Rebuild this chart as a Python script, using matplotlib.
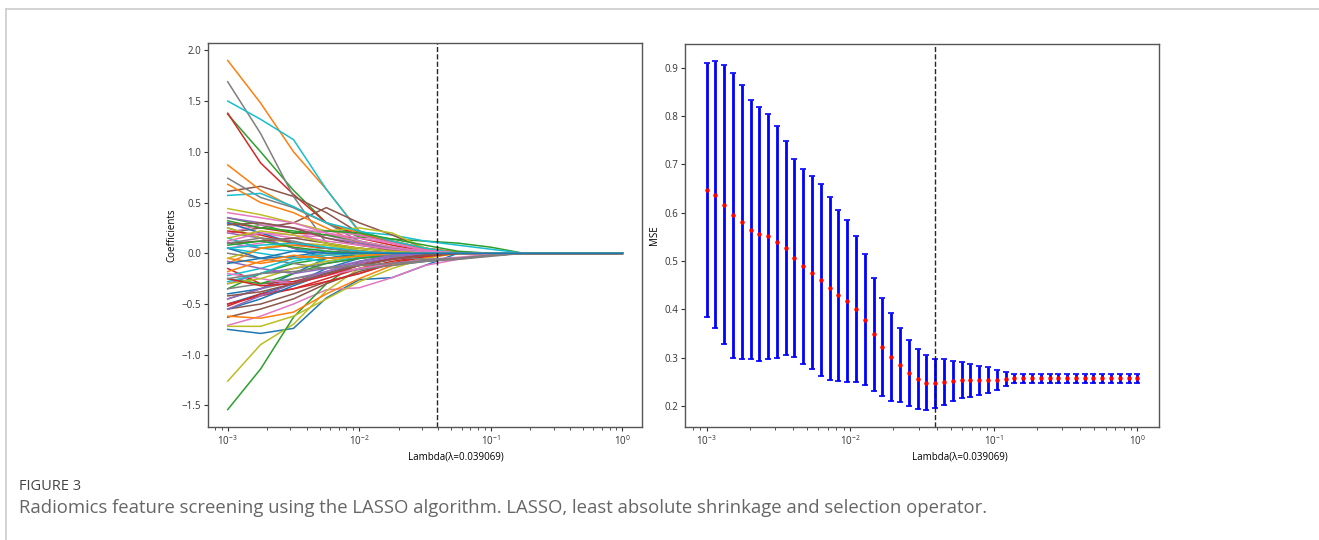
import numpy as np
import matplotlib
matplotlib.use("Agg")
import matplotlib.pyplot as plt
from matplotlib.lines import Line2D

# lambda grid (log10) used to read the coefficient paths
coef_log_lambda = [-3.0, -2.75, -2.5, -2.25, -2.0, -1.75, -1.5, -1.25, -1.0, -0.75, 0.0]

# one row per feature, drawn in the default colour cycle order
coef_paths = [
    [-0.75, -0.79, -0.74, -0.44, -0.26, -0.24, -0.12, 0.0, 0.0, 0.0, 0.0],
    [1.90, 1.48, 1.00, 0.63, 0.22, 0.12, 0.04, 0.0, 0.0, 0.0, 0.0],
    [1.37, 1.00, 0.62, 0.30, 0.16, 0.14, 0.12, 0.10, 0.06, 0.0, 0.0],
    [1.38, 0.89, 0.58, 0.30, 0.18, 0.12, 0.05, 0.01, 0.0, 0.0, 0.0],
    [0.10, 0.05, 0.08, 0.05, 0.02, 0.0, 0.0, 0.0, 0.0, 0.0, 0.0],
    [0.61, 0.66, 0.56, 0.40, 0.20, 0.10, 0.03, 0.0, 0.0, 0.0, 0.0],
    [-0.71, -0.62, -0.50, -0.36, -0.34, -0.24, -0.12, -0.06, -0.02, 0.0, 0.0],
    [1.69, 1.18, 0.56, 0.10, 0.02, 0.0, 0.0, 0.0, 0.0, 0.0, 0.0],
    [-1.26, -0.90, -0.70, -0.37, -0.15, -0.04, 0.0, 0.0, 0.0, 0.0, 0.0],
    [1.50, 1.32, 1.12, 0.63, 0.21, 0.18, 0.12, 0.08, 0.04, 0.0, 0.0],
    [-0.50, -0.40, -0.30, -0.15, -0.05, 0.0, 0.0, 0.0, 0.0, 0.0, 0.0],
    [0.87, 0.62, 0.45, 0.30, 0.20, 0.12, 0.05, 0.01, 0.0, 0.0, 0.0],
    [-1.54, -1.14, -0.63, -0.30, -0.08, -0.02, 0.0, 0.0, 0.0, 0.0, 0.0],
    [0.30, 0.25, 0.20, 0.18, 0.15, 0.08, 0.02, 0.0, 0.0, 0.0, 0.0],
    [-0.30, -0.20, -0.15, -0.10, -0.05, -0.02, 0.0, 0.0, 0.0, 0.0, 0.0],
    [0.20, 0.25, 0.30, 0.45, 0.30, 0.18, 0.05, 0.0, 0.0, 0.0, 0.0],
    [0.05, 0.10, 0.15, 0.18, 0.10, 0.05, 0.0, 0.0, 0.0, 0.0, 0.0],
    [0.74, 0.55, 0.45, 0.30, 0.12, 0.05, 0.02, 0.0, 0.0, 0.0, 0.0],
    [0.44, 0.38, 0.30, 0.22, 0.25, 0.20, 0.05, 0.0, 0.0, 0.0, 0.0],
    [0.57, 0.59, 0.46, 0.30, 0.22, 0.12, 0.05, 0.0, 0.0, 0.0, 0.0],
    [0.25, 0.15, 0.05, -0.05, -0.02, 0.0, 0.0, 0.0, 0.0, 0.0, 0.0],
    [0.68, 0.50, 0.40, 0.25, 0.10, 0.03, 0.0, 0.0, 0.0, 0.0, 0.0],
    [-0.35, -0.20, -0.10, -0.05, -0.02, 0.0, 0.0, 0.0, 0.0, 0.0, 0.0],
    [-0.52, -0.40, -0.35, -0.25, -0.15, -0.08, -0.03, 0.0, 0.0, 0.0, 0.0],
    [0.20, 0.15, 0.05, 0.0, 0.0, 0.0, 0.0, 0.0, 0.0, 0.0, 0.0],
    [-0.63, -0.55, -0.45, -0.30, -0.18, -0.10, -0.04, 0.0, 0.0, 0.0, 0.0],
    [0.30, 0.20, 0.15, 0.22, 0.18, 0.10, 0.03, 0.0, 0.0, 0.0, 0.0],
    [-0.45, -0.35, -0.28, -0.20, -0.15, -0.12, -0.08, -0.05, -0.02, 0.0, 0.0],
    [-0.72, -0.72, -0.62, -0.45, -0.28, -0.15, -0.05, 0.0, 0.0, 0.0, 0.0],
    [0.15, 0.05, 0.02, 0.05, 0.05, 0.02, 0.0, 0.0, 0.0, 0.0, 0.0],
    [-0.40, -0.35, -0.20, -0.05, 0.0, 0.0, 0.0, 0.0, 0.0, 0.0, 0.0],
    [-0.62, -0.64, -0.58, -0.40, -0.25, -0.12, -0.04, 0.0, 0.0, 0.0, 0.0],
    [0.35, 0.28, 0.20, 0.22, 0.20, 0.14, 0.08, 0.02, 0.0, 0.0, 0.0],
    [-0.15, -0.30, -0.28, -0.20, -0.10, -0.05, -0.01, 0.0, 0.0, 0.0, 0.0],
    [-0.45, -0.35, -0.25, -0.18, -0.10, -0.04, 0.0, 0.0, 0.0, 0.0, 0.0],
    [-0.55, -0.50, -0.40, -0.28, -0.20, -0.10, -0.03, 0.0, 0.0, 0.0, 0.0],
    [0.20, 0.28, 0.25, 0.20, 0.15, 0.10, 0.03, 0.0, 0.0, 0.0, 0.0],
    [0.0, -0.05, -0.10, -0.15, -0.12, -0.10, -0.08, -0.06, -0.03, 0.0, 0.0],
    [0.25, 0.15, 0.10, 0.08, 0.05, 0.02, 0.0, 0.0, 0.0, 0.0, 0.0],
    [-0.22, -0.15, -0.05, 0.0, 0.0, 0.0, 0.0, 0.0, 0.0, 0.0, 0.0],
    [0.30, 0.20, 0.10, 0.05, 0.02, 0.0, 0.0, 0.0, 0.0, 0.0, 0.0],
    [-0.05, -0.10, -0.05, -0.02, 0.0, 0.0, 0.0, 0.0, 0.0, 0.0, 0.0],
    [0.32, 0.25, 0.22, 0.18, 0.12, 0.06, 0.01, 0.0, 0.0, 0.0, 0.0],
    [-0.50, -0.42, -0.35, -0.28, -0.20, -0.10, -0.03, 0.0, 0.0, 0.0, 0.0],
    [0.35, 0.30, 0.25, 0.15, 0.10, 0.04, 0.0, 0.0, 0.0, 0.0, 0.0],
    [0.10, 0.12, 0.15, 0.10, 0.05, 0.02, 0.0, 0.0, 0.0, 0.0, 0.0],
    [0.40, 0.35, 0.30, 0.20, 0.12, 0.06, 0.02, 0.0, 0.0, 0.0, 0.0],
    [-0.35, -0.30, -0.25, -0.20, -0.16, -0.12, -0.08, -0.05, -0.02, 0.0, 0.0],
    [-0.05, 0.05, 0.10, 0.08, 0.03, 0.0, 0.0, 0.0, 0.0, 0.0, 0.0],
    [0.05, 0.0, -0.05, -0.08, -0.04, 0.0, 0.0, 0.0, 0.0, 0.0, 0.0],
    [-0.55, -0.45, -0.32, -0.20, -0.12, -0.06, -0.02, 0.0, 0.0, 0.0, 0.0],
    [-0.10, 0.05, 0.08, 0.05, 0.02, 0.0, 0.0, 0.0, 0.0, 0.0, 0.0],
    [-0.25, -0.30, -0.20, -0.10, -0.05, -0.02, 0.0, 0.0, 0.0, 0.0, 0.0],
    [0.22, 0.18, 0.10, 0.05, 0.02, 0.0, 0.0, 0.0, 0.0, 0.0, 0.0],
    [-0.08, -0.15, -0.20, -0.15, -0.08, -0.03, 0.0, 0.0, 0.0, 0.0, 0.0],
    [0.28, 0.30, 0.25, 0.15, 0.08, 0.03, 0.0, 0.0, 0.0, 0.0, 0.0],
    [-0.20, -0.25, -0.30, -0.22, -0.15, -0.10, -0.06, -0.04, -0.01, 0.0, 0.0],
    [0.10, 0.15, 0.12, 0.05, 0.0, -0.03, -0.06, -0.05, -0.02, 0.0, 0.0],
    [-0.30, -0.25, -0.15, -0.08, -0.02, 0.0, 0.0, 0.0, 0.0, 0.0, 0.0],
    [-0.28, -0.20, -0.08, -0.02, 0.0, 0.0, 0.0, 0.0, 0.0, 0.0, 0.0],
    [0.05, -0.05, -0.03, 0.02, 0.0, 0.0, 0.0, 0.0, 0.0, 0.0, 0.0],
    [-0.18, -0.08, -0.02, -0.05, -0.03, 0.0, 0.0, 0.0, 0.0, 0.0, 0.0],
    [0.08, 0.12, 0.06, 0.02, 0.0, 0.0, 0.0, 0.0, 0.0, 0.0, 0.0],
    [-0.25, -0.32, -0.30, -0.22, -0.12, -0.06, -0.02, 0.0, 0.0, 0.0, 0.0],
    [-0.55, -0.42, -0.30, -0.18, -0.08, -0.02, 0.0, 0.0, 0.0, 0.0, 0.0],
    [-0.42, -0.38, -0.30, -0.20, -0.12, -0.06, -0.02, 0.0, 0.0, 0.0, 0.0],
    [0.12, 0.20, 0.18, 0.12, 0.08, 0.04, 0.01, 0.0, 0.0, 0.0, 0.0],
    [-0.25, -0.20, -0.18, -0.14, -0.12, -0.10, -0.07, -0.05, -0.02, 0.0, 0.0],
    [0.15, 0.22, 0.18, 0.10, 0.05, 0.02, 0.0, 0.0, 0.0, 0.0, 0.0],
    [0.05, 0.08, 0.10, 0.06, 0.02, 0.0, 0.0, 0.0, 0.0, 0.0, 0.0],
    [-0.10, -0.05, 0.02, 0.0, 0.0, 0.0, 0.0, 0.0, 0.0, 0.0, 0.0],
]

# cross-validation curve: 50 lambdas, log-spaced 1e-3 .. 1
mse_mean = [0.647, 0.637, 0.617, 0.595, 0.581, 0.565, 0.556, 0.551, 0.540, 0.527,
            0.507, 0.489, 0.476, 0.461, 0.444, 0.429, 0.418, 0.402, 0.379, 0.349,
            0.322, 0.302, 0.285, 0.269, 0.256, 0.249, 0.247, 0.250, 0.252, 0.254,
            0.254, 0.254, 0.254, 0.254, 0.256, 0.258, 0.258, 0.258, 0.258, 0.258,
            0.258, 0.258, 0.258, 0.258, 0.258, 0.258, 0.258, 0.258, 0.258, 0.258]
mse_err = [0.263, 0.276, 0.289, 0.295, 0.284, 0.268, 0.262, 0.253, 0.240, 0.221,
           0.205, 0.202, 0.200, 0.199, 0.189, 0.177, 0.167, 0.151, 0.135, 0.117,
           0.101, 0.091, 0.077, 0.068, 0.062, 0.056, 0.050, 0.047, 0.042, 0.038,
           0.034, 0.030, 0.027, 0.021, 0.015, 0.009, 0.009, 0.009, 0.009, 0.009,
           0.009, 0.009, 0.009, 0.009, 0.009, 0.009, 0.009, 0.009, 0.009, 0.009]

best_lambda = 0.039069
xlabel = "Lambda(\u03bb=0.039069)"
caption_title = "FIGURE 3"
caption_text = ("Radiomics feature screening using the LASSO algorithm. LASSO, "
                "least absolute shrinkage and selection operator.")

W, H = 1319, 540
plt.rcParams['font.family'] = ['Open Sans', 'DejaVu Sans']

fig = plt.figure(figsize=(W / 100, H / 100), dpi=100)


def px_axes(x0, y0, x1, y1):
    return fig.add_axes([x0 / W, 1 - y1 / H, (x1 - x0) / W, (y1 - y0) / H])


def style(ax):
    for s in ax.spines.values():
        s.set_color('#555555')
        s.set_linewidth(1.0)
    ax.tick_params(which='major', length=3, width=0.8, labelsize=7, colors='#333333', pad=2)
    ax.tick_params(which='minor', length=2, width=0.6, colors='#333333')


# left: coefficient paths
ax1 = px_axes(208, 43, 642, 427)
lam_grid = 10.0 ** np.array(coef_log_lambda)
for row in coef_paths:
    ax1.plot(lam_grid, row, linewidth=1.1)
ax1.axvline(best_lambda, color='black', linestyle='--', linewidth=1.0, alpha=0.85)
ax1.set_xscale('log')
ax1.set_yticks([-1.5, -1.0, -0.5, 0.0, 0.5, 1.0, 1.5, 2.0])
ax1.set_ylabel("Coefficients", fontsize=7, labelpad=3)
ax1.set_xlabel(xlabel, fontsize=7, labelpad=3, x=0.57)
style(ax1)

# right: MSE with error bars
ax2 = px_axes(685, 44, 1159, 427)
lambdas = np.logspace(-3, 0, len(mse_mean))
ax2.errorbar(lambdas, mse_mean, yerr=mse_err, fmt='o', color='red', markersize=2.2,
             ecolor='blue', elinewidth=2.0, capsize=2, capthick=1.2)
ax2.axvline(best_lambda, color='black', linestyle='--', linewidth=1.0, alpha=0.85)
ax2.set_xscale('log')
ax2.set_yticks([0.2, 0.3, 0.4, 0.5, 0.6, 0.7, 0.8, 0.9])
ax2.set_ylabel("MSE", fontsize=7, labelpad=3)
ax2.set_xlabel(xlabel, fontsize=7, labelpad=3, x=0.58)
style(ax2)

# page frame and caption
fig.add_artist(Line2D([6 / W, 6 / W], [0, 1 - 9 / H], color='#cccccc', linewidth=1.2))
fig.add_artist(Line2D([6 / W, 1], [1 - 9 / H, 1 - 9 / H], color='#cccccc', linewidth=1.2))
fig.text(19 / W, 1 - 486 / H, caption_title, fontsize=10.5, color='#444444', va='center')
fig.text(19 / W, 1 - 508 / H, caption_text, fontsize=13.3, color='#666666', va='center')

fig.savefig("out.png", dpi=100)
